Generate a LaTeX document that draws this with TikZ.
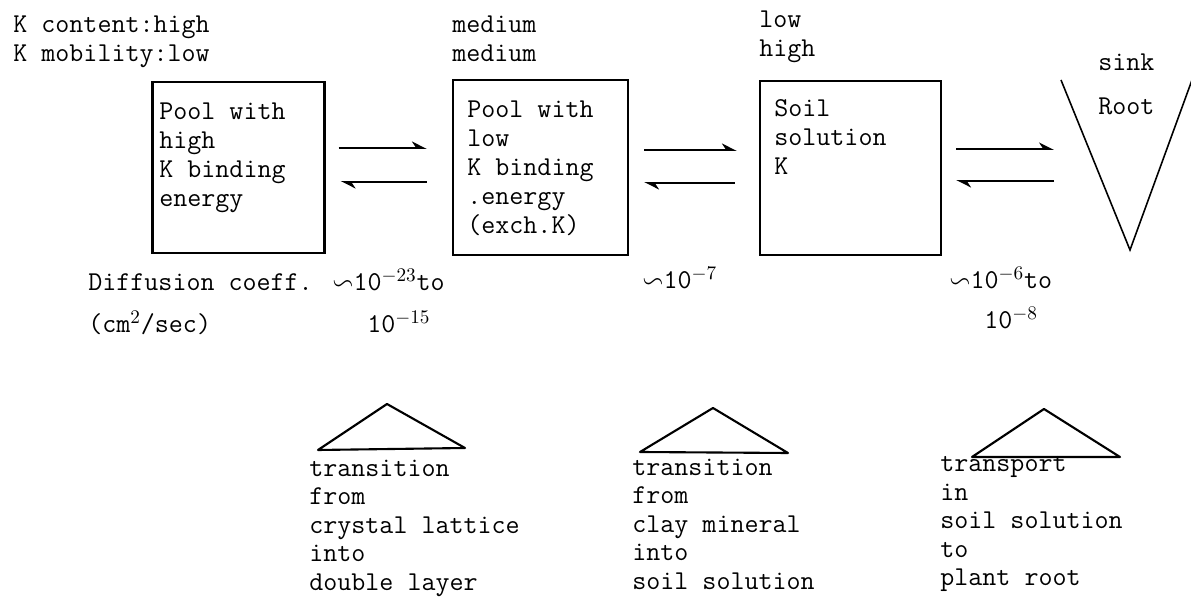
\documentclass[tikz,border=0pt]{standalone}
\usepackage{amssymb}
\usepackage{amsmath}
\usepackage{tikz}
\usetikzlibrary{arrows.meta}

\begin{document}
\begin{tikzpicture}[x=0.02cm,y=-0.02cm,inner sep=0pt,
  txt/.style={font=\ttfamily\fontsize{15.5}{16.5}\selectfont,align=left,anchor=north west},
  low/.style={font=\ttfamily\fontsize{15.5}{16.2}\selectfont,align=left,anchor=north west},
  num/.style={font=\ttfamily\fontsize{15.5}{16.5}\selectfont,anchor=base west},
  box/.style={rectangle,draw=black,line width=1.3pt},
  tri/.style={line width=1.2pt,line join=round},
  eq/.style={line width=1.1pt,-{Stealth[harpoon,length=0.26cm,width=0.26cm]}}]
\useasboundingbox (0,0) rectangle (1191,597);
%Pools
\node at (238.5,167.5) [box,minimum width=3.44cm,minimum height=3.42cm] (Box1) {};
\node at (540.5,167.5) [box,minimum width=3.5cm,minimum height=3.5cm] (Box2) {};
\node at (850.5,168) [box,minimum width=3.62cm,minimum height=3.48cm] (Box3) {};
%Sink
\draw [line width=0.9pt] (1061,80) -- (1130,250) -- (1192,80);
\coordinate (SinkIn) at (1054,165);
%Pool Labels
\node at (159,103) [txt] (Text1) {Pool with\\high\\K binding\\energy};
\node at (467,101) [txt] (Text2) {Pool with\\low\\K binding\\.energy\\(exch.K)};
\node at (774,99) [txt] (Text3) {Soil\\solution\\K};
\node at (1098,53.5) [txt] (Sink) {sink};
\node at (1098,97.5) [txt] (Root) {Root};
%Column Heads
\node at (13,16) [txt] (Head1) {K content:high\\K mobility:low};
\node at (452,16) [txt] (Head2) {medium\\medium};
\node at (759,10.5) [txt] (Head3) {low\\high};
%connections
\draw [eq,shorten <=0.26cm,shorten >=0.5cm] (Box1.east |- 0,148) -- (Box2.west |- 0,148);
\draw [eq,shorten <=0.5cm,shorten >=0.3cm] (Box2.west |- 0,182) -- (Box1.east |- 0,182);
\draw [eq,shorten <=0.3cm,shorten >=0.44cm] (Box2.east |- 0,150) -- (Box3.west |- 0,150);
\draw [eq,shorten <=0.48cm,shorten >=0.3cm] (Box3.west |- 0,183) -- (Box2.east |- 0,183);
\draw [eq,shorten <=0.28cm] (Box3.east |- 0,149) -- (SinkIn |- 0,149);
\draw [eq,shorten >=0.28cm] (SinkIn |- 0,181) -- (Box3.east |- 0,181);
%Diffusion Labels
\node at (88,291) [num] (Diff) {Diffusion coeff.};
\node at (332,291) [num] (DiffA) {$\backsim$10$^{-23}$to};
\node at (88,333) [num] (Unit) {(cm$^2$/sec)};
\node at (367,333) [num] (DiffB) {10$^{-15}$};
\node at (642,289) [num] (DiffC) {$\backsim$10$^{-7}$};
\node at (949,289) [num] (DiffD) {$\backsim$10$^{-6}$to};
\node at (984,329) [num] (DiffE) {10$^{-8}$};
%Transitions
\draw [tri] (318,450) -- (387,404) -- (465,448) -- cycle;
\draw [tri] (640,452) -- (713,408) -- (788,453) -- cycle;
\draw [tri] (972,457) -- (1044,409) -- (1120,457) -- cycle;
\node at (309,459.5) [low] (Step1) {transition\\from\\crystal lattice\\into\\double layer};
\node at (632,458.5) [low] (Step2) {transition\\from\\clay mineral\\into\\soil solution};
\node at (940,456.5) [low] (Step3) {transport\\in\\soil solution\\to\\plant root};
\end{tikzpicture}
\end{document}
